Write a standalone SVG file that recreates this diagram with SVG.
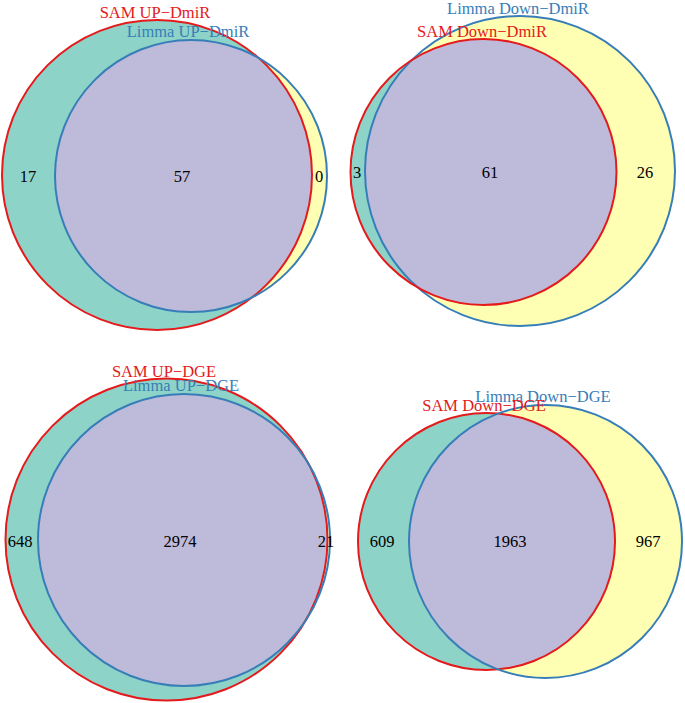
<svg xmlns="http://www.w3.org/2000/svg" width="685" height="703" viewBox="0 0 685 703">
<style>
.a{fill:#8DD3C7}
.b{fill:#FFFFB3}
.ab{fill:#BEBADA}
.sr{fill:none;stroke:#E41A1C;stroke-width:2}
.sb{fill:none;stroke:#377EB8;stroke-width:2}
text{font-family:"Liberation Serif","Times New Roman",serif;font-size:16.5px;text-anchor:middle}
.n{fill:#000}
.lr{fill:#E41A1C}
.lb{fill:#377EB8}
</style>
<defs>
<clipPath id="c1"><circle cx="157" cy="175" r="155"/></clipPath>
<clipPath id="c2"><circle cx="483.5" cy="172" r="133"/></clipPath>
<clipPath id="c3"><circle cx="166.5" cy="539.5" r="161"/></clipPath>
<clipPath id="c4"><circle cx="486.5" cy="541.5" r="128.5"/></clipPath>
</defs>
<rect width="685" height="703" fill="#fff"/>
<g id="venn-up-dmir">
<circle class="a" cx="157" cy="175" r="155"/>
<circle class="b" cx="191" cy="176" r="136"/>
<circle class="ab" cx="191" cy="176" r="136" clip-path="url(#c1)"/>
<circle class="sr" cx="157" cy="175" r="155"/>
<circle class="sb" cx="191" cy="176" r="136"/>
<text class="lr" x="155" y="18">SAM UP−DmiR</text>
<text class="lb" x="188" y="37">Limma UP−DmiR</text>
<text class="n" x="28" y="182">17</text>
<text class="n" x="182" y="182">57</text>
<text class="n" x="319" y="182">0</text>
</g>
<g id="venn-down-dmir">
<circle class="a" cx="483.5" cy="172" r="133"/>
<circle class="b" cx="520" cy="171" r="155"/>
<circle class="ab" cx="520" cy="171" r="155" clip-path="url(#c2)"/>
<circle class="sb" cx="520" cy="171" r="155"/>
<circle class="sr" cx="483.5" cy="172" r="133"/>
<text class="lb" x="518" y="14">Limma Down−DmiR</text>
<text class="lr" x="482" y="37">SAM Down−DmiR</text>
<text class="n" x="357" y="178">3</text>
<text class="n" x="490" y="178">61</text>
<text class="n" x="645" y="178">26</text>
</g>
<g id="venn-up-dge">
<circle class="a" cx="166.5" cy="539.5" r="161"/>
<circle class="b" cx="184" cy="540" r="146"/>
<circle class="ab" cx="184" cy="540" r="146" clip-path="url(#c3)"/>
<circle class="sr" cx="166.5" cy="539.5" r="161"/>
<circle class="sb" cx="184" cy="540" r="146"/>
<text class="lr" x="164" y="377">SAM UP−DGE</text>
<text class="lb" x="181" y="391">Limma UP−DGE</text>
<text class="n" x="20" y="547">648</text>
<text class="n" x="180" y="547">2974</text>
<text class="n" x="326" y="547">21</text>
</g>
<g id="venn-down-dge">
<circle class="a" cx="486.5" cy="541.5" r="128.5"/>
<circle class="b" cx="545.5" cy="541.5" r="136.5"/>
<circle class="ab" cx="545.5" cy="541.5" r="136.5" clip-path="url(#c4)"/>
<circle class="sr" cx="486.5" cy="541.5" r="128.5"/>
<circle class="sb" cx="545.5" cy="541.5" r="136.5"/>
<text class="lb" x="543" y="402">Limma Down−DGE</text>
<text class="lr" x="484" y="411">SAM Down−DGE</text>
<text class="n" x="382" y="547">609</text>
<text class="n" x="510" y="547">1963</text>
<text class="n" x="648" y="547">967</text>
</g>
</svg>
